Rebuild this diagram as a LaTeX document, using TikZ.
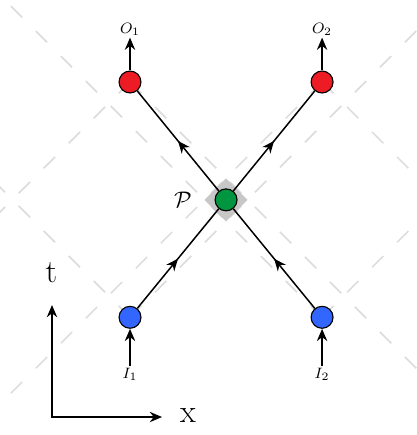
\documentclass[tikz,border=0pt]{standalone}
\usepackage{amsmath}
\usepackage{tikz}
\usetikzlibrary{arrows.meta}
\usetikzlibrary{shapes.geometric}
\usetikzlibrary{decorations.markings}
\usetikzlibrary{backgrounds}
\definecolor{outred}{RGB}{237,28,36}
\definecolor{inblue}{RGB}{51,102,255}
\definecolor{midgreen}{RGB}{0,150,64}

\begin{document}
\begin{tikzpicture}
\tikzset{vertex/.style = {circle,draw=black,line width=0.6pt,minimum size=0.41cm,inner sep=0pt}}
\tikzset{region/.style = {diamond,fill=black!22,minimum size=0.81cm,inner sep=0pt}}
\tikzset{cone/.style = {draw=black!14,line width=0.8pt,dash pattern=on 8.5pt off 10.3pt}}
\tikzset{edge/.style = {line width=0.8pt,postaction={decorate},
  decoration={markings,mark=at position 0.5 with {\arrow{Stealth[length=6.5pt,width=5.5pt]}}}}}
\tikzset{io/.style = {font=\footnotesize,inner sep=1pt}}
\tikzset{>={Stealth[length=6.5pt,width=5.5pt]}}
\useasboundingbox (0,0) rectangle (7.776,8.131);
\clip (0,0) rectangle (7.776,8.131);
% vertices
\node[vertex,fill=inblue] (I1) at (2.43,2.2) {};
\node[vertex,fill=inblue] (I2) at (6.02,2.2) {};
\node[vertex,fill=midgreen] (P) at (4.225,4.395) {};
\node[vertex,fill=outred] (O1) at (2.43,6.598) {};
\node[vertex,fill=outred] (O2) at (6.02,6.598) {};
\node at (3.42,4.395) {\large $\mathcal{P}$};
% in and out
\node[io] (i1) at (2.43,1.125) {$I_1$};
\node[io] (i2) at (6.02,1.125) {$I_2$};
\node[io] (o1) at (2.43,7.585) {$O_1$};
\node[io] (o2) at (6.02,7.585) {$O_2$};
% light cones
\begin{scope}[on background layer]
\foreach \v in {I1,I2} {
  \draw[cone] (\v.center) -- ++(45:9);
  \draw[cone] (\v.center) -- ++(135:9);
}
\foreach \v in {O1,O2} {
  \draw[cone] (\v.center) -- ++(-45:9);
  \draw[cone] (\v.center) -- ++(-135:9);
}
\node[region] (D) at (P) {};
\end{scope}
%edges
\draw[edge] (I1) -- (P);
\draw[edge] (I2) -- (P);
\draw[edge] (P) -- (O1);
\draw[edge] (P) -- (O2);
\draw[->,line width=0.8pt] (i1) -- (I1);
\draw[->,line width=0.8pt] (i2) -- (I2);
\draw[->,line width=0.8pt] (O1) -- (o1);
\draw[->,line width=0.8pt] (O2) -- (o2);
% axes
\coordinate (orig) at (0.972,0.336);
\coordinate (tend) at (0.972,2.43);
\coordinate (xend) at (3.028,0.336);
\node (t) at (0.96,3.028) {\LARGE t};
\node (x) at (3.514,0.355) {\LARGE x};
\draw[<->,line width=0.8pt] (tend) -- (orig) -- (xend);
\end{tikzpicture}
\end{document}
